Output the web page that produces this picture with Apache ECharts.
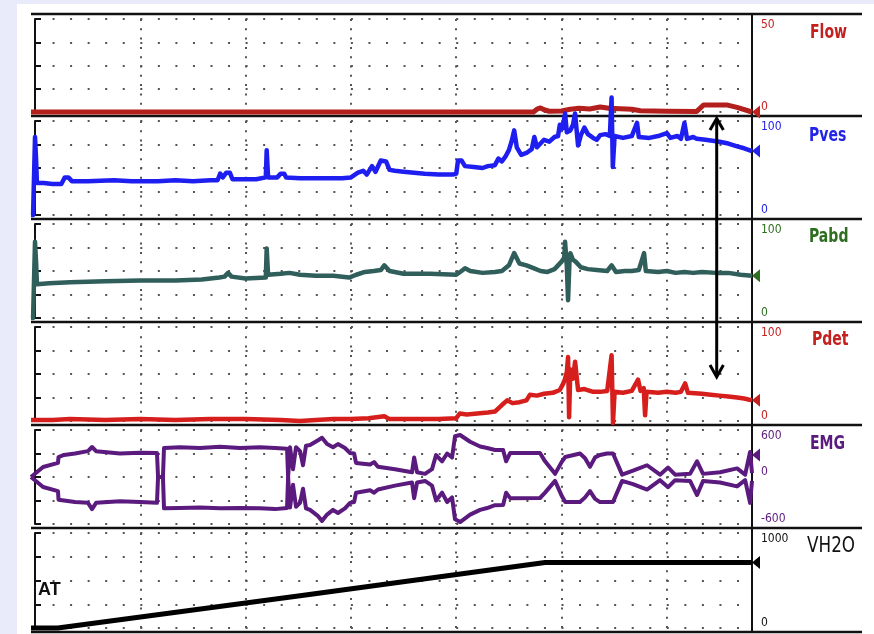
<!DOCTYPE html>
<html><head><meta charset="utf-8">
<script src="https://cdn.jsdelivr.net/npm/echarts@6/dist/echarts.min.js"></script>
<style>html,body{margin:0;padding:0;background:#fff}#c{width:874px;height:634px}</style>
</head><body><div id="c"></div>
<script>
// ---------------- data (time in s, values in channel units) ----------------
const channelNames = ['Flow', 'Pves', 'Pabd', 'Pdet', 'EMG', 'VH2O'];
const axisMin = [0, 0, 0, 0, -600, 0];
const axisMax = [50, 100, 100, 100, 600, 1000];
const axisStep = [12.5, 25, 25, 25, 300, 250];
const timeMin = -2.28, timeMax = 408.5, timeStep = 60;
const annotationText = 'AT';

const flowData = [[-2.28,0],[150,0],[284,0],[286,1.5],[288,2.2],[290,1.2],[293,0.4],[300,0.5],[305,1.5],[310,2],[316,1.6],[322,2.7],[327,2],[340,1.5],[345,0.7],[360,0.4],[377,0.3],[381,3.8],[394,3.8],[400,2.5],[408.5,0]];

const pvesData = [[-2.28,0],[-1.1,0],[0,83],[0.6,60],[1.1,34],[5,34],[10,33],[15,33],[17,40],[19,40],[21,36],[30,36],[45,37],[55,36],[70,36],[80,37],[90,36],[100,37],[104,37],[105.5,44],[107,40],[109,45],[111,45],[112.5,38],[120,38],[126,38],[131.5,40],[132,69],[132.8,40],[138,40],[140,44],[142,44],[143,40],[151,39],[165,39],[175,39],[180,40],[184,45],[187,47],[189,43],[192,52],[194,46],[197,58],[200,57],[202,48],[205,47],[210,46],[216,45],[222,44],[230,43],[238,43],[240,44],[241,58],[243,58],[245,52],[250,51],[255,50],[258,52],[262,53],[264,60],[266,57],[268,62],[270,69],[271.5,78],[273,90],[274.5,72],[277,64],[280,66],[283,70],[284.5,83],[286,72],[288,76],[290,80],[293,78],[296,83],[298,84],[299,96],[300.5,92],[302,108],[303,88],[305,90],[306.5,96],[307.7,108],[309.4,74],[311,85],[313,93],[315,86],[318,82],[320,80],[322,85],[325,86],[327.5,84],[328.5,125],[329.2,51],[330.2,84],[335,82],[340,84],[343,98],[344,83],[350,82],[355,84],[360,87],[362,82],[366,84],[368,81],[370,98],[371.5,81],[375,83],[377,81],[382,80],[386,79],[390,78],[395,76],[400,73],[404,71],[408.5,68]];

const pabdData = [[-2.28,0],[-1.1,0],[0,81],[0.6,60],[1.1,36],[8,37],[20,38],[40,39],[60,40],[80,40],[95,41],[105,43],[108,44],[110,48],[112,44],[120,42],[131.5,43],[132,74],[132.8,46],[140,47],[145,48],[151,46],[160,45],[170,45],[179,43],[183,46],[188,49],[193,50],[197,51],[199,56],[202,50],[210,47],[225,47],[240,46],[243,50],[245,53],[248,50],[255,48],[262,49],[266,50],[270,56],[273,69],[276,58],[280,56],[284,53],[288,50],[292,49],[296,52],[298,56],[300,60],[301.5,64],[302,81],[303,55],[303.7,19],[304.5,60],[305,69],[306.5,62],[308,60],[311,54],[315,52],[320,51],[326,50],[328.5,56],[331,49],[336,50],[340,50],[344,51],[347,69],[348,50],[355,49],[360,50],[365,48],[370,49],[375,48],[380,49],[388,48],[395,48],[402,46],[408.5,45]];

const pdetData = [[-2.28,1],[10,1],[20,2],[40,1],[60,2],[80,1],[100,2],[120,2],[140,1],[151,0],[160,1],[170,2],[180,2],[190,3],[199,5],[202,2],[215,2],[230,2],[240,3],[242,8],[246,7],[252,8],[258,9],[262,10],[266,17],[269,22],[272,19],[276,20],[280,22],[282,28],[286,27],[290,29],[295,30],[299,33],[301,40],[302,45],[303,52],[303.7,68],[304.3,4],[305,55],[306.5,45],[307.7,63],[309.4,33],[313,34],[318,31],[322,31],[326,32],[328.5,70],[329.3,-2],[330.2,31],[335,30],[340,32],[343.6,44],[345,32],[346.8,35],[347.6,6],[348.4,31],[355,30],[360,31],[365,30],[368,31],[370.4,40],[372,30],[380,29],[385,28],[390,27],[395,26],[400,25],[404,24],[408.5,22]];

const emgUpper = [[-2.28,0],[4.6,128],[13.1,180],[13.4,255],[16.5,281],[22.8,300],[30.2,330],[32.5,383],[34.8,330],[48.4,300],[59.8,310],[69.5,306],[70.1,0],[72.9,0],[73.5,370],[82.6,380],[94,370],[105.4,385],[116.8,370],[128.2,380],[136.8,370],[143.6,360],[144.2,0],[145.3,380],[147,100],[148.7,380],[151,330],[152.7,150],[154.4,400],[156.7,408],[161.3,470],[163.5,500],[166.4,420],[169.8,380],[172.6,420],[176.6,370],[179.5,306],[181.8,300],[182.9,180],[190.9,160],[193.2,190],[195.4,130],[205.1,100],[214.8,60],[216,250],[217.7,60],[222.2,40],[226.2,100],[228.5,280],[231.9,200],[234.8,300],[237.6,250],[239.3,520],[242.2,536],[247.9,450],[253.6,390],[257.6,370],[262.1,345],[266.7,345],[268.4,200],[270.7,306],[287.7,306],[290.6,200],[296.3,40],[300.3,200],[302.1,255],[310.5,300],[313.4,240],[316.2,130],[319.1,250],[321.9,280],[325.9,300],[329.3,300],[334.5,30],[340.7,80],[348.7,150],[356.1,30],[360.7,120],[364.7,30],[373.2,40],[377.2,200],[380.6,40],[390.3,60],[400,110],[404.6,30],[407.4,320],[408.5,50]];

const emgLower = [[-2.28,0],[4.6,-128],[13.1,-180],[13.4,-290],[16.5,-300],[22.8,-320],[30.2,-330],[32.5,-409],[34.8,-330],[48.4,-310],[59.8,-320],[69.5,-330],[70.1,0],[72.9,0],[73.5,-400],[82.6,-396],[94,-390],[105.4,-400],[116.8,-395],[128.2,-400],[136.8,-410],[143.6,-396],[144.2,0],[145.3,-390],[147,-100],[148.7,-380],[151,-330],[152.7,-150],[154.4,-400],[156.7,-420],[161.3,-500],[163.5,-560],[166.4,-480],[169.8,-420],[172.6,-460],[176.6,-400],[179.5,-330],[181.8,-320],[182.9,-200],[190.9,-170],[193.2,-200],[195.4,-160],[205.1,-110],[214.8,-70],[216,-270],[217.7,-70],[222.2,-50],[226.2,-110],[228.5,-300],[231.9,-200],[234.8,-320],[237.6,-260],[239.3,-540],[242.2,-575],[247.9,-480],[253.6,-420],[257.6,-396],[262.1,-360],[266.7,-357],[268.4,-200],[270.7,-270],[287.7,-268],[290.6,-200],[296.3,-50],[300.3,-250],[302.1,-320],[310.5,-320],[313.4,-260],[316.2,-180],[319.1,-280],[321.9,-320],[325.9,-320],[329.3,-320],[334.5,-50],[340.7,-90],[348.7,-160],[356.1,-40],[360.7,-130],[364.7,-40],[373.2,-50],[377.2,-230],[380.6,-50],[390.3,-70],[400,-120],[404.6,-40],[407.4,-330],[408.5,-50]];

const vh2oData = [[-2.28,0],[13,0],[151,340],[290.6,690],[408.5,690]];

// current-value markers on the right axis
const markerValues = [0, 68, 45, 22, 280, 690];

// ---------------- layout & style ----------------
const W = 874;
const LINES = [14, 116, 219, 322, 425, 528, 632];
const PLOT_L = 31, DOT_L = 35, AXIS_X = 752, LINE_END = 862;
const NARROW = '"Liberation Sans Narrow","DejaVu Sans Condensed","Arial Narrow",sans-serif';
const traceColors = ['#b31f1c', '#1e1ef0', '#2f5e5b', '#d61f1d', '#5b1a7d', '#000000'];
const labelColors = ['#c3211f', '#2424e6', '#2f6d20', '#c3211f', '#5b1a7d', '#111111'];
const markerColors = ['#c3211f', '#2424e6', '#2f6d20', '#c3211f', '#5b1a7d', '#000000'];
const traceWidths = [5, 4.5, 4.5, 4.5, 4, 5];
const nameY = [32.5, 136, 237, 340, 443.5, 546.5];
const nameX = [810, 809, 809, 812, 810, 807];
const nameSize = [20, 20, 20, 20, 20, 22];
const nameScale = [0.78, 0.78, 0.78, 0.78, 0.78, 0.85];
const nameWeight = ['bold', 'bold', 'bold', 'bold', 'bold', 'normal'];

const grids = [], xAxes = [], yAxes = [];
for (let i = 0; i < 6; i++) {
  const top = LINES[i] + 5, bottom = LINES[i + 1] - 4;
  grids.push({ left: PLOT_L, right: W - AXIS_X, top: top, height: bottom - top });
}
for (let i = 0; i < 6; i++) {
  const top = LINES[i] + 5, bottom = LINES[i + 1] - 4;
  grids.push({ left: DOT_L, right: W - AXIS_X, top: top, height: bottom - top });
}
for (let i = 0; i < 6; i++) {
  xAxes.push({ gridIndex: i, type: 'value', min: timeMin, max: timeMax, show: false });
}
for (let i = 0; i < 6; i++) {
  xAxes.push({ gridIndex: 6 + i, type: 'value', min: 0, max: timeMax, interval: timeStep,
    axisLine: { show: false }, axisTick: { show: false }, axisLabel: { show: false },
    splitLine: { show: true, lineStyle: { color: '#555', width: 2, type: [2, 7.3] } } });
}
for (let i = 0; i < 6; i++) {
  const mn = axisMin[i], mx = axisMax[i], col = labelColors[i];
  yAxes.push({ gridIndex: i, type: 'value', position: 'right', min: mn, max: mx, interval: axisStep[i],
    axisLine: { show: true, lineStyle: { color: '#111', width: 2 } },
    axisTick: { show: true, inside: false, length: 6, lineStyle: { color: '#111', width: 2 } },
    splitLine: { show: false },
    axisLabel: { show: true, margin: 9, color: col, fontSize: 12, fontFamily: NARROW,
      formatter: function (v) {
        if (v === mx) return '{mx|' + v + '}';
        if (v === mn || (mn < 0 && v === 0)) return '{mn|' + v + '}';
        return '';
      },
      rich: {
        mx: { padding: [11, 0, 0, 0], color: col, fontSize: 12, fontFamily: NARROW },
        mn: { padding: [0, 0, 10, 0], color: col, fontSize: 12, fontFamily: NARROW }
      } } });
}
for (let i = 0; i < 6; i++) {
  yAxes.push({ gridIndex: 6 + i, type: 'value', min: 0, max: 4, interval: 1,
    axisLine: { show: false }, axisTick: { show: false }, axisLabel: { show: false },
    splitLine: { show: true, lineStyle: { color: '#555', width: 2, type: [2, 15.55] } } });
}

function trace(i, name, data, withMarker) {
  const s = { type: 'line', name: name, xAxisIndex: i, yAxisIndex: i, data: data,
    symbol: 'none', showSymbol: false, clip: false, animation: false, z: 3,
    lineStyle: { color: traceColors[i], width: traceWidths[i], join: 'round' } };
  if (withMarker) {
    s.markPoint = { silent: true, symbol: 'triangle', symbolSize: [13, 8], symbolRotate: 90,
      symbolOffset: [4, 0], itemStyle: { color: markerColors[i] }, label: { show: false },
      data: [{ coord: [timeMax, markerValues[i]] }] };
  }
  return s;
}
const series = [
  trace(0, 'Flow', flowData, true),
  trace(1, 'Pves', pvesData, true),
  trace(2, 'Pabd', pabdData, true),
  trace(3, 'Pdet', pdetData, true),
  trace(4, 'EMG', emgUpper, true),
  trace(4, 'EMG', emgLower, false),
  trace(5, 'VH2O', vh2oData, true)
];

const graphics = [
  { type: 'rect', z: -100, silent: true, shape: { x: 17, y: 4, width: W - 17, height: 634 - 4 }, style: { fill: '#ffffff' } }
];
LINES.forEach(function (y) {
  graphics.push({ type: 'line', z: 1, silent: true, shape: { x1: PLOT_L, y1: y, x2: LINE_END, y2: y }, style: { stroke: '#111', lineWidth: 2.5 } });
});
graphics.push({ type: 'line', z: 1, silent: true, shape: { x1: AXIS_X, y1: LINES[0], x2: AXIS_X, y2: LINES[6] }, style: { stroke: '#111', lineWidth: 2 } });
channelNames.forEach(function (n, i) {
  graphics.push({ type: 'text', z: 10, silent: true, x: nameX[i], y: nameY[i], scaleX: nameScale[i],
    style: { text: n, x: 0, y: 0, fill: labelColors[i], fontWeight: nameWeight[i],
    fontSize: nameSize[i], fontFamily: NARROW, verticalAlign: 'middle', align: 'left' } });
});
graphics.push({ type: 'text', z: 10, silent: true, style: { text: annotationText, x: 38, y: 590, fill: '#111',
  fontSize: 18, fontWeight: 'bold', fontFamily: '"Liberation Sans",Arial,sans-serif', verticalAlign: 'middle' } });
// double-headed arrow
const AX = 716.7;
graphics.push({ type: 'line', z: 10, silent: true, shape: { x1: AX, y1: 120, x2: AX, y2: 376 }, style: { stroke: '#000', lineWidth: 3 } });
graphics.push({ type: 'polyline', z: 10, silent: true, shape: { points: [[710, 130], [AX, 118.5], [723.4, 130]] }, style: { stroke: '#000', lineWidth: 3, fill: null } });
graphics.push({ type: 'polyline', z: 10, silent: true, shape: { points: [[710, 365], [AX, 377], [723.4, 365]] }, style: { stroke: '#000', lineWidth: 3, fill: null } });

const chart = echarts.init(document.getElementById('c'), null, { renderer: 'canvas', width: 874, height: 634 });
chart.setOption({
  animation: false,
  backgroundColor: '#e9ebfb',
  grid: grids, xAxis: xAxes, yAxis: yAxes,
  series: series,
  graphic: graphics
});
</script></body></html>
